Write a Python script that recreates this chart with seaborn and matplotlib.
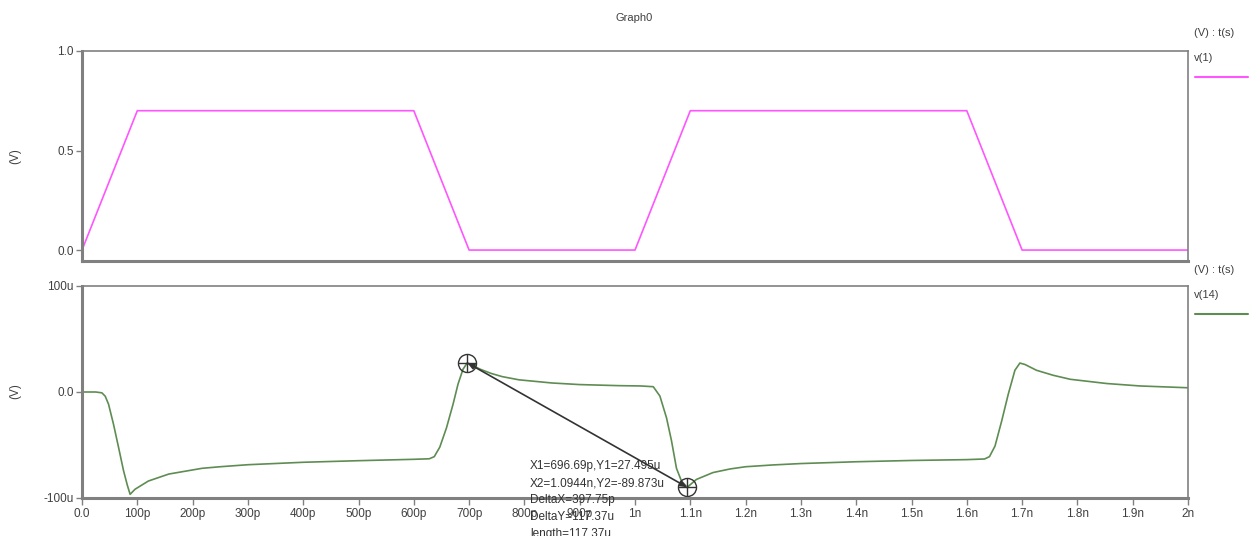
import matplotlib
matplotlib.use("Agg")
import matplotlib.pyplot as plt
from matplotlib.lines import Line2D
import seaborn as sns
import pandas as pd

# --- data (time in ns) ---
t_v1 = [0.0, 0.1, 0.6, 0.7, 1.0, 1.1, 1.6, 1.7, 2.0]
v1 = [0.0, 0.7, 0.7, 0.0, 0.0, 0.7, 0.7, 0.0, 0.0]

# v(14) in uV
t_v14 = [0.00, 0.025, 0.036, 0.042, 0.048, 0.057, 0.066, 0.075, 0.082, 0.087, 0.096, 0.12,
         0.157, 0.217, 0.25, 0.3, 0.4, 0.5, 0.6, 0.628, 0.637, 0.647, 0.659, 0.671, 0.680,
         0.689, 0.6967, 0.705, 0.72, 0.74, 0.76, 0.79, 0.85, 0.9, 0.97, 1.01, 1.033, 1.045,
         1.057, 1.066, 1.075, 1.084, 1.0944, 1.111, 1.141, 1.172, 1.2, 1.25, 1.3, 1.4, 1.5,
         1.6, 1.632, 1.641, 1.651, 1.663, 1.675, 1.687, 1.696, 1.705, 1.726, 1.756, 1.787,
         1.853, 1.913, 2.0]
v14 = [0.0, 0.0, -0.8, -4.0, -11.5, -30.5, -52.0, -74.0, -88.0, -96.5, -91.7, -84.0,
       -77.4, -72.0, -70.5, -68.6, -66.3, -64.8, -63.5, -63.0, -61.0, -52.0, -34.0, -11.5, 7.5,
       21.5, 27.5, 25.5, 21.5, 17.5, 14.5, 11.5, 8.5, 7.0, 6.0, 5.7, 5.0, -3.8,
       -24.4, -46.0, -72.0, -84.0, -89.9, -82.5, -76.0, -72.6, -70.5, -68.8, -67.5, -65.8, -64.6,
       -63.8, -63.2, -61.0, -51.0, -27.5, -2.0, 20.5, 27.3, 26.0, 20.5, 15.8, 12.0,
       8.0, 5.7, 4.0]

x_ticks = [0, 0.1, 0.2, 0.3, 0.4, 0.5, 0.6, 0.7, 0.8, 0.9, 1.0,
           1.1, 1.2, 1.3, 1.4, 1.5, 1.6, 1.7, 1.8, 1.9, 2.0]
x_labels = ["0.0", "100p", "200p", "300p", "400p", "500p", "600p", "700p", "800p", "900p", "1n",
            "1.1n", "1.2n", "1.3n", "1.4n", "1.5n", "1.6n", "1.7n", "1.8n", "1.9n", "2n"]
top_yticks = [0.0, 0.5, 1.0]
top_ylabels = ["0.0", "0.5", "1.0"]
bot_yticks = [-100, 0, 100]
bot_ylabels = ["-100u", "0.0", "100u"]

cursor_t = [0.69669, 1.0944]
cursor_v = [27.495, -89.873]
cursor_text = ["X1=696.69p,Y1=27.495u", "X2=1.0944n,Y2=-89.873u",
               "DeltaX=397.75p", "DeltaY=117.37u", "length=117.37u"]

MAGENTA = "#ff55ff"
GREEN = "#5e8c52"
FRAME = "#808080"
TXT = "#404040"

sns.set_style("white")
plt.rcParams["font.family"] = ["Liberation Sans", "DejaVu Sans"]
plt.rcParams["font.size"] = 8

W, H = 1254, 536
fig = plt.figure(figsize=(W / 100, H / 100), dpi=100)

def px_axes(x0, y0, x1, y1):
    return fig.add_axes([x0 / W, 1 - y1 / H, (x1 - x0) / W, (y1 - y0) / H])

ax1 = px_axes(82, 51, 1188, 261)
ax2 = px_axes(82, 286, 1188, 498)

df1 = pd.DataFrame({"t": t_v1, "v": v1})
df2 = pd.DataFrame({"t": t_v14, "v": v14})
sns.lineplot(data=df1, x="t", y="v", ax=ax1, color=MAGENTA, lw=1.2, estimator=None)
sns.lineplot(data=df2, x="t", y="v", ax=ax2, color=GREEN, lw=1.2, estimator=None)

for ax in (ax1, ax2):
    ax.set_xlim(0, 2.0)
    ax.set_xlabel("")
    ax.set_ylabel("")
    for s in ax.spines.values():
        s.set_color(FRAME)
        s.set_linewidth(1.2)
    ax.spines["left"].set_linewidth(2.2)
    ax.spines["bottom"].set_linewidth(2.2)
    ax.tick_params(axis="y", direction="out", length=4, width=1, color=FRAME,
                   labelcolor=TXT, labelsize=8.5, pad=2, left=True)

ax1.set_ylim(-0.055, 1.0)
ax1.set_yticks(top_yticks, top_ylabels)
ax1.set_xticks([])

ax2.set_ylim(-100, 100)
ax2.set_yticks(bot_yticks, bot_ylabels)
ax2.set_xticks(x_ticks, x_labels)
ax2.tick_params(axis="x", direction="out", length=5, width=1, color=FRAME,
                labelcolor=TXT, labelsize=8.5, pad=2, bottom=True)

# y axis labels
fig.text(15 / W, 1 - 156 / H, "(V)", rotation=90, ha="center", va="center", color=TXT, fontsize=8.5)
fig.text(15 / W, 1 - 391 / H, "(V)", rotation=90, ha="center", va="center", color=TXT, fontsize=8.5)

# cursors
ax2.annotate("", xy=(cursor_t[1], cursor_v[1]), xytext=(cursor_t[0], cursor_v[0]),
             arrowprops=dict(arrowstyle="<|-|>,head_length=0.5,head_width=0.2",
                             color="#333333", lw=1.2, shrinkA=0, shrinkB=0))
ax2.plot(cursor_t, cursor_v, ls="none", marker="o", ms=13, mfc="none", mec="#333333", mew=1)
ax2.plot(cursor_t, cursor_v, ls="none", marker="+", ms=13, mec="#333333", mew=1)
for i, line in enumerate(cursor_text):
    fig.text(530 / W, 1 - (466 + 17 * i) / H, line, color="#333333", fontsize=8.5,
             va="center", ha="left")

# title and legend-like labels
fig.text(634 / W, 1 - 18 / H, "Graph0", ha="center", va="center", color=TXT, fontsize=8)
fig.text(1194 / W, 1 - 33 / H, "(V) : t(s)", ha="left", va="center", color=TXT, fontsize=8)
fig.text(1194 / W, 1 - 58 / H, "v(1)", ha="left", va="center", color=TXT, fontsize=8)
fig.add_artist(Line2D([1195 / W, 1248 / W], [1 - 77 / H, 1 - 77 / H], color=MAGENTA, lw=1.5))
fig.text(1194 / W, 1 - 270 / H, "(V) : t(s)", ha="left", va="center", color=TXT, fontsize=8)
fig.text(1194 / W, 1 - 295 / H, "v(14)", ha="left", va="center", color=TXT, fontsize=8)
fig.add_artist(Line2D([1195 / W, 1248 / W], [1 - 314 / H, 1 - 314 / H], color=GREEN, lw=1.5))

fig.savefig("out.png", dpi=100, facecolor="white")
